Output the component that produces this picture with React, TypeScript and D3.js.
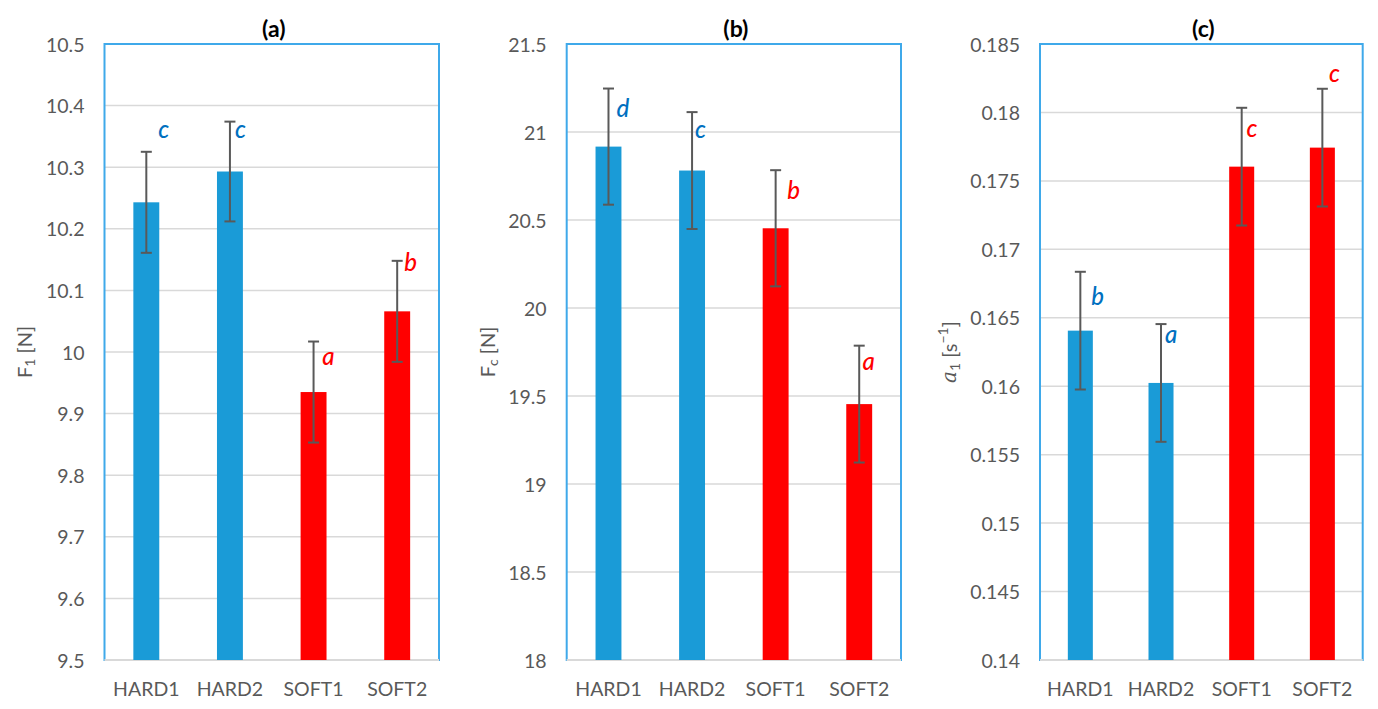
import React from 'react';
import * as d3 from 'd3';

const categories = ['HARD1', 'HARD2', 'SOFT1', 'SOFT2'];
const groupColors = ['#1a9bd7', '#1a9bd7', '#ff0000', '#ff0000'];
const letterColors = ['#0070c0', '#0070c0', '#ff0000', '#ff0000'];

// panel (a) F1 [N]
const f1Values = [10.243, 10.293, 9.935, 10.066];
const f1Errors = [0.082, 0.081, 0.082, 0.082];
const f1Letters = ['c', 'c', 'a', 'b'];
const f1LetterY = [10.348, 10.347, 9.979, 10.132];
const f1Domain = [9.5, 10.5];
const f1Step = 0.1;

// panel (b) Fc [N]
const fcValues = [20.917, 20.781, 20.453, 19.454];
const fcErrors = [0.33, 0.332, 0.33, 0.332];
const fcLetters = ['d', 'c', 'b', 'a'];
const fcLetterY = [21.083, 20.968, 20.622, 19.648];
const fcDomain = [18, 21.5];
const fcStep = 0.5;

// panel (c) a1 [s^-1]
const a1Values = [0.16406, 0.16024, 0.17604, 0.17743];
const a1Errors = [0.0043, 0.0043, 0.0043, 0.0043];
const a1Letters = ['b', 'a', 'c', 'c'];
const a1LetterY = [0.16593, 0.16316, 0.17818, 0.18225];
const a1Domain = [0.14, 0.185];
const a1Step = 0.005;

const FONT = 'Lato, "Noto Sans", sans-serif';
const TICK_COLOR = '#595959';

type PanelProps = {
  title: string;
  left: number;
  right: number;
  values: number[];
  errors: number[];
  letters: string[];
  letterY: number[];
  letterDx: number[];
  domain: number[];
  step: number;
  labelX: number;
  yLabel: React.ReactNode;
};

const TOP = 44;
const BOTTOM = 660;

function Panel(p: PanelProps) {
  const y = d3.scaleLinear().domain(p.domain).range([BOTTOM, TOP]);
  const x = d3
    .scaleBand<string>()
    .domain(categories)
    .range([p.left, p.right])
    .paddingInner(0.69)
    .paddingOuter(0.345);
  const n = Math.round((p.domain[1] - p.domain[0]) / p.step);
  const ticks = d3.range(n + 1).map((i) => +(p.domain[0] + i * p.step).toFixed(4));
  const bw = x.bandwidth();
  const cx = (c: string) => (x(c) as number) + bw / 2;
  const cap = 5.5;
  return (
    <g>
      <text
        x={(p.left + p.right) / 2 + 2}
        y={37}
        textAnchor="middle"
        fontFamily={FONT}
        fontWeight="bold"
        fontSize={23}
        fill="#000"
      >
        {p.title}
      </text>
      {ticks.map((t) => (
        <line
          key={'g' + t}
          x1={p.left}
          x2={p.right}
          y1={y(t)}
          y2={y(t)}
          stroke="#d9d9d9"
          strokeWidth={1.5}
        />
      ))}
      {ticks.map((t) => (
        <text
          key={'t' + t}
          x={p.left - 20}
          y={y(t)}
          textAnchor="end"
          dominantBaseline="central"
          fontFamily={FONT}
          fontSize={19.5}
          fill={TICK_COLOR}
        >
          {String(t)}
        </text>
      ))}
      <rect
        x={p.left}
        y={TOP}
        width={p.right - p.left}
        height={BOTTOM - TOP}
        fill="none"
        stroke="#3fa9ea"
        strokeWidth={2}
      />
      <line x1={p.left} x2={p.right} y1={BOTTOM} y2={BOTTOM} stroke="#d9d9d9" strokeWidth={2} />
      {categories.map((c, i) => (
        <rect
          key={'b' + c}
          x={x(c)}
          y={y(p.values[i])}
          width={bw}
          height={BOTTOM - y(p.values[i])}
          fill={groupColors[i]}
        />
      ))}
      {categories.map((c, i) => {
        const xc = cx(c);
        const y1 = y(p.values[i] + p.errors[i]);
        const y2 = y(p.values[i] - p.errors[i]);
        return (
          <g key={'e' + c} stroke="#595959" strokeWidth={2}>
            <line x1={xc} x2={xc} y1={y1} y2={y2} />
            <line x1={xc - cap} x2={xc + cap} y1={y1} y2={y1} />
            <line x1={xc - cap} x2={xc + cap} y1={y2} y2={y2} />
          </g>
        );
      })}
      {categories.map((c, i) => (
        <text
          key={'l' + c}
          x={cx(c) + p.letterDx[i]}
          y={y(p.letterY[i])}
          fontFamily={FONT}
          fontStyle="italic"
          fontWeight={500}
          fontSize={24}
          fill={letterColors[i]}
        >
          {p.letters[i]}
        </text>
      ))}
      {categories.map((c) => (
        <text
          key={'c' + c}
          x={cx(c)}
          y={696}
          textAnchor="middle"
          fontFamily={FONT}
          fontSize={19.5}
          fill={TICK_COLOR}
        >
          {c}
        </text>
      ))}
      <g transform={`translate(${p.labelX},352) rotate(-90)`}>
        <text
          x={0}
          y={0}
          textAnchor="middle"
          dominantBaseline="central"
          fontFamily={FONT}
          fontSize={20}
          fill={TICK_COLOR}
        >
          {p.yLabel}
        </text>
      </g>
    </g>
  );
}

export default function App() {
  return (
    <svg
      width={1378}
      height={709}
      style={{ position: 'absolute', left: 0, top: 0, background: '#fff' }}
    >
      <rect x={0} y={0} width={1378} height={709} fill="#fff" />
      <Panel
        title="(a)"
        left={104.5}
        right={439}
        values={f1Values}
        errors={f1Errors}
        letters={f1Letters}
        letterY={f1LetterY}
        letterDx={[12, 5, 8.7, 7]}
        domain={f1Domain}
        step={f1Step}
        labelX={24}
        yLabel={
          <>
            F<tspan fontSize={14} dy={5}>1</tspan>
            <tspan dy={-5}> [N]</tspan>
          </>
        }
      />
      <Panel
        title="(b)"
        left={566.7}
        right={901}
        values={fcValues}
        errors={fcErrors}
        letters={fcLetters}
        letterY={fcLetterY}
        letterDx={[8, 3, 11.7, 3.4]}
        domain={fcDomain}
        step={fcStep}
        labelX={487}
        yLabel={
          <>
            F<tspan fontSize={14} dy={5}>c</tspan>
            <tspan dy={-5}> [N]</tspan>
          </>
        }
      />
      <Panel
        title="(c)"
        left={1040}
        right={1362.7}
        values={a1Values}
        errors={a1Errors}
        letters={a1Letters}
        letterY={a1LetterY}
        letterDx={[11, 4, 4.7, 6.6]}
        domain={a1Domain}
        step={a1Step}
        labelX={949}
        yLabel={
          <>
            <tspan fontStyle="italic" fontFamily='"DejaVu Serif", serif'>a</tspan>
            <tspan fontSize={14} dy={5}>1</tspan>
            <tspan dy={-5}> [s</tspan>
            <tspan fontSize={14} dy={-7}>−1</tspan>
            <tspan dy={7}>]</tspan>
          </>
        }
      />
    </svg>
  );
}
